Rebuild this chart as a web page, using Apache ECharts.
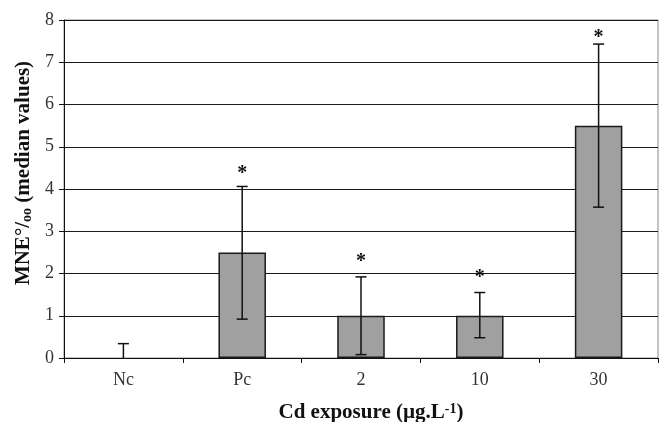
<!DOCTYPE html>
<html><head><meta charset="utf-8">
<script src="https://cdn.jsdelivr.net/npm/echarts@6/dist/echarts.min.js"></script>
<style>html,body{margin:0;padding:0;background:#fff}#c{width:661px;height:422px}</style>
</head><body><div id="c"></div>
<script>
var categories = ['Nc', 'Pc', '2', '10', '30'];
var medians = [0, 2.5, 1, 1, 5.5];
var errLow = [0, 0.92, 0.08, 0.48, 3.57];
var errHigh = [0.34, 4.06, 1.92, 1.55, 7.43];
var starY = [null, 4.45, 2.37, 1.99, 7.68];
var yTicks = [0, 1, 2, 3, 4, 5, 6, 7, 8];

var serif = 'Liberation Serif';
var chart = echarts.init(document.getElementById('c'), null, {renderer: 'canvas'});

var errData = categories.map(function (c, i) { return [i, errLow[i], errHigh[i], starY[i]]; });
var barData = medians.map(function (v) {
  return v === 0 ? {value: v, itemStyle: {borderWidth: 0}} : v;
});

chart.setOption({
  animation: false,
  backgroundColor: '#fff',
  grid: {left: 64, right: 3, top: 20, bottom: 64, show: true, borderColor: '#8a8a8a', borderWidth: 1,
    containLabel: false, outerBoundsMode: 'none'},
  xAxis: {
    type: 'category', data: categories,
    axisLine: {lineStyle: {color: '#111', width: 1}},
    axisTick: {show: true, length: 5, lineStyle: {color: '#111'}},
    axisLabel: {fontFamily: serif, fontSize: 18, color: '#333', margin: 13},
    name: 'Cd exposure (µg.L{sup|-1})',
    nameLocation: 'middle', nameGap: 44,
    nameTextStyle: {
      fontFamily: serif, fontSize: 21, fontWeight: 'bold', color: '#111', padding: [0, 0, 0, 20],
      rich: {sup: {fontFamily: serif, fontSize: 14, fontWeight: 'bold', color: '#111', verticalAlign: 'top', padding: [0, 0, 8, 0]}}
    }
  },
  yAxis: {
    type: 'value', min: 0, max: 8, interval: 1,
    axisLine: {show: true, lineStyle: {color: '#111', width: 1}},
    axisTick: {show: true, length: 5, lineStyle: {color: '#111'}},
    axisLabel: {fontFamily: serif, fontSize: 18, color: '#333', margin: 10,
      formatter: function (v) { return yTicks.indexOf(v) >= 0 ? String(v) : ''; }},
    splitLine: {show: true, lineStyle: {color: '#1a1a1a', width: 1}},
    name: 'MNE°/{sub|oo} (median values)',
    nameLocation: 'middle', nameGap: 27,
    nameTextStyle: {
      fontFamily: serif, fontSize: 21, fontWeight: 'bold', color: '#111', padding: [0, 0, 0, 32],
      rich: {sub: {fontFamily: serif, fontSize: 14, fontWeight: 'bold', color: '#111', verticalAlign: 'bottom', padding: [8, 0, 0, 0]}}
    }
  },
  series: [
    {
      type: 'bar', data: barData, barWidth: '40%',
      itemStyle: {color: '#a0a0a0', borderColor: '#1a1a1a', borderWidth: 1.5},
      z: 2
    },
    {
      type: 'custom', data: errData, z: 3,
      renderItem: function (params, api) {
        var x = api.value(0);
        var lo = api.coord([x, api.value(1)]);
        var hi = api.coord([x, api.value(2)]);
        var hw = 5.5;
        var st = {stroke: '#111', lineWidth: 1.5};
        var children = [
          {type: 'line', shape: {x1: lo[0], y1: lo[1], x2: hi[0], y2: hi[1]}, style: st},
          {type: 'line', shape: {x1: hi[0] - hw, y1: hi[1], x2: hi[0] + hw, y2: hi[1]}, style: st}
        ];
        if (api.value(1) > 0) {
          children.push({type: 'line', shape: {x1: lo[0] - hw, y1: lo[1], x2: lo[0] + hw, y2: lo[1]}, style: st});
        }
        var sv = starY[params.dataIndex];
        if (sv != null) {
          var sp = api.coord([x, sv]);
          children.push({type: 'text', style: {x: sp[0], y: sp[1] + 4, text: '*', fill: '#111',
            font: 'bold 20px "Liberation Serif"', align: 'center', verticalAlign: 'middle'}});
        }
        return {type: 'group', children: children};
      }
    }
  ]
});
</script></body></html>
